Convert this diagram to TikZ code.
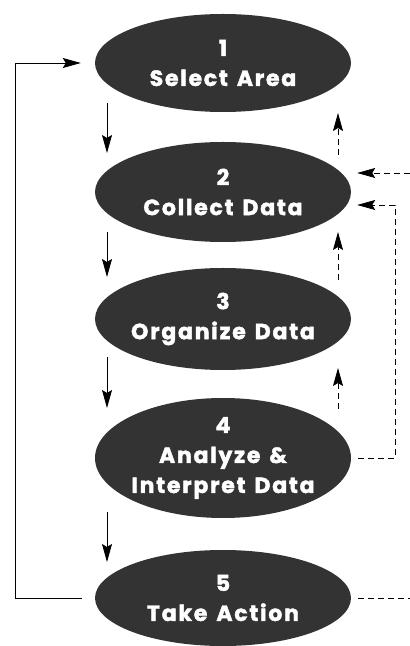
\documentclass[tikz,border=0pt]{standalone}
\usepackage{fontspec}
\newfontfamily\stepfont[LetterSpace=8, WordSpace=1.4, BoldFeatures={FakeBold=1.8}]{Poppins}
\usetikzlibrary{arrows.meta, shapes.geometric}

\tikzset{
  stage/.style={ellipse, fill=black!80, text=white, minimum width=256pt, inner sep=-25pt,
    align=center, font=\stepfont\bfseries\fontsize{22}{30}\selectfont},
  flow/.style={->, line width=0.8pt},
  back/.style={->, line width=0.8pt, dash pattern=on 6pt off 4pt},
}

\begin{document}
\begin{tikzpicture}[x=1pt, y=1pt, >={Stealth[length=18pt, width=10pt, inset=3pt]}]
  \useasboundingbox (0,0) rectangle (410,646);

  % the five steps
  \node[stage, minimum height=98pt]  (sel) at (223,583) {1\\Select Area};
  \node[stage, minimum height=100pt] (col) at (223,454) {2\\Collect Data};
  \node[stage, minimum height=102pt] (org) at (223,327) {3\\Organize Data};
  \node[stage, minimum height=120pt] (ana) at (223,188) {4\\Analyze \&\\Interpret Data};
  \node[stage, minimum height=96pt]  (act) at (223,48)  {5\\Take Action};

  % forward steps
  \draw[flow] ([shift={(-116,-40)}]sel.center) -- ([shift={(-116,39)}]col.center);
  \draw[flow] ([shift={(-116,-40)}]col.center) -- ([shift={(-116,42)}]org.center);
  \draw[flow] ([shift={(-116,-38)}]org.center) -- ([shift={(-116,50)}]ana.center);
  \draw[flow] ([shift={(-116,-54)}]ana.center) -- ([shift={(-116,36)}]act.center);
  \draw[flow] ([xshift=-13pt]act.west) -- ++(-66,0) |- ([xshift=-14pt]sel.west);

  % feedback
  \draw[back] ([shift={(115,37)}]col.center) -- ([shift={(115,-50)}]sel.center);
  \draw[back] ([shift={(115,39)}]org.center) -- ([shift={(115,-40)}]col.center);
  \draw[back] ([shift={(115,49)}]ana.center) -- ([shift={(115,-49)}]org.center);

  \coordinate (inlet) at (410,473);
  \coordinate (outlet) at (410,48);
  \draw[back] (inlet) -- ([shift={(6,19)}]col.east);
  \draw[back] ([xshift=7pt]ana.east) -- ++(37,0) |- ([shift={(6,-13)}]col.east);
  \draw[back, -] ([xshift=7pt]act.east) -- (outlet);
\end{tikzpicture}
\end{document}
